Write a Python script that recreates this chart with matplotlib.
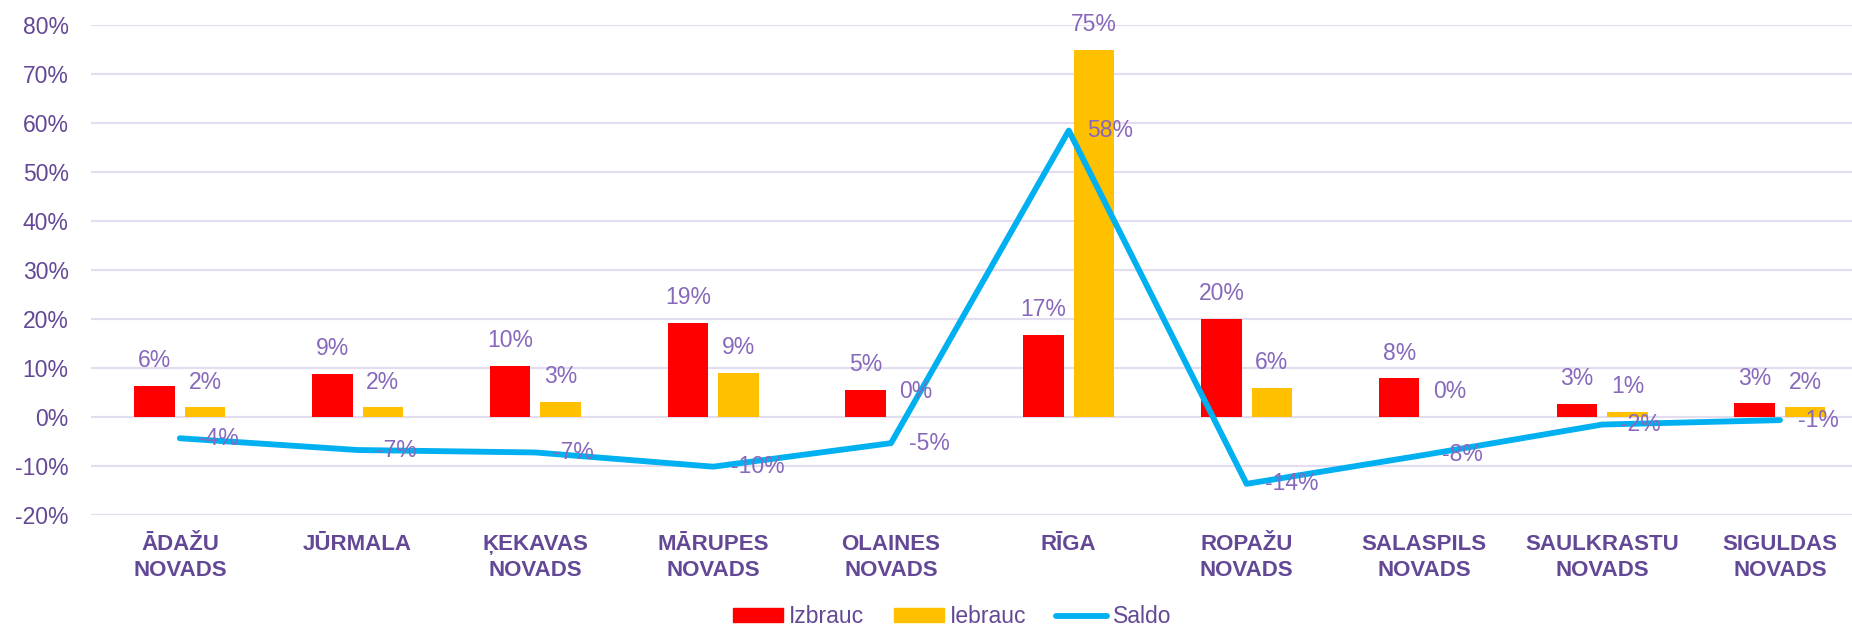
import matplotlib
matplotlib.use("Agg")
import matplotlib.pyplot as plt
from matplotlib.patches import Patch
from matplotlib.lines import Line2D
import numpy as np

# data (percent)
categories = ["ĀDAŽU\nNOVADS", "JŪRMALA", "ĶEKAVAS\nNOVADS", "MĀRUPES\nNOVADS",
              "OLAINES\nNOVADS", "RĪGA", "ROPAŽU\nNOVADS", "SALASPILS\nNOVADS",
              "SAULKRASTU\nNOVADS", "SIGULDAS\nNOVADS"]
izbrauc = [6.3, 8.7, 10.3, 19.2, 5.4, 16.6, 19.9, 7.8, 2.6, 2.7]
iebrauc = [1.9, 1.9, 3.0, 8.9, 0.0, 74.9, 5.9, 0.0, 0.9, 1.9]
saldo = [-4.4, -6.8, -7.3, -10.2, -5.4, 58.4, -13.7, -7.8, -1.6, -0.7]
y_ticks = [-20, -10, 0, 10, 20, 30, 40, 50, 60, 70, 80]

RED = "#FF0000"
YELLOW = "#FFC000"
BLUE = "#00B0F0"
DARK = "#634895"
LABEL = "#8768BB"
GRID = "#E4DDF0"

plt.rcParams["font.family"] = ["Liberation Sans", "DejaVu Sans"]

fig = plt.figure(figsize=(18.52, 6.32), dpi=100)
ax = fig.add_axes([0.0491, 0.1856, 0.960, 0.7753])

x = np.arange(len(categories))
w = 0.228
off = 0.142

ax.bar(x - off, izbrauc, w, color=RED, zorder=2)
ax.bar(x + off, iebrauc, w, color=YELLOW, zorder=2)
ax.plot(x, saldo, color=BLUE, lw=4.2, solid_capstyle="round", zorder=3)

for xi, v in zip(x - off, izbrauc):
    ax.annotate(f"{v:.0f}%", (xi, v), xytext=(0, 10), textcoords="offset points",
                ha="center", va="bottom", fontsize=16.5, color=LABEL, zorder=4)
for xi, v in zip(x + off, iebrauc):
    ax.annotate(f"{v:.0f}%", (xi, v), xytext=(0, 10), textcoords="offset points",
                ha="center", va="bottom", fontsize=16.5, color=LABEL, zorder=4)
for xi, v in zip(x, saldo):
    ax.annotate(f"{v:.0f}%", (xi, v), xytext=(13, 0), textcoords="offset points",
                ha="left", va="center", fontsize=16.5, color=LABEL, zorder=4)

ax.set_xlim(-0.5, len(categories) - 0.5)
ax.set_ylim(-20, 80)
ax.set_yticks(y_ticks)
ax.set_yticklabels([f"{t}%" for t in y_ticks], fontsize=16.5, color=DARK)
ax.set_xticks(x)
ax.set_xticklabels(categories, fontsize=16, fontweight="bold", color=DARK,
                   linespacing=1.3)
ax.tick_params(axis="both", length=0)
ax.tick_params(axis="y", pad=16)
ax.tick_params(axis="x", pad=14)
ax.yaxis.grid(True, color=GRID, lw=1.6, zorder=0)
ax.set_axisbelow(True)
for s in ax.spines.values():
    s.set_visible(False)

handles = [Patch(color=RED, label="Izbrauc"),
           Patch(color=YELLOW, label="Iebrauc"),
           Line2D([0], [0], color=BLUE, lw=4.2, solid_capstyle="round", label="Saldo")]
leg = fig.legend(handles=handles, loc="center", bbox_to_anchor=(0.514, 0.024), ncol=3,
                 frameon=False, fontsize=16.5, handlelength=2.2, handleheight=0.55,
                 handletextpad=0.25, columnspacing=1.3)
for t in leg.get_texts():
    t.set_color(DARK)

fig.savefig("out.png", dpi=100)
